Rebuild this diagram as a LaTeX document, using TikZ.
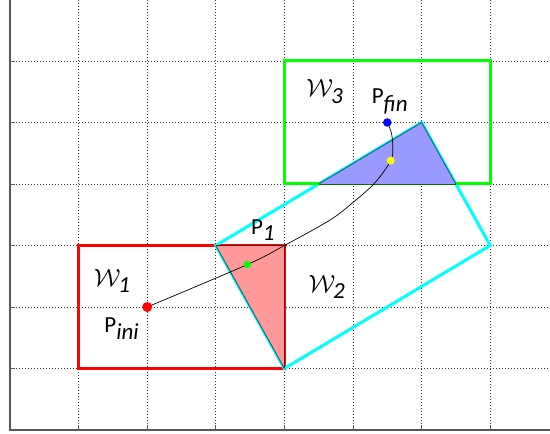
\documentclass[tikz,border=0pt]{standalone}
\usepackage{fontspec}
\setmainfont{Carlito}
\definecolor{mred}{RGB}{255,0,0}
\definecolor{mgreen}{RGB}{0,255,0}
\definecolor{mcyan}{RGB}{0,255,255}
\definecolor{mblue}{RGB}{0,0,255}
\definecolor{myellow}{RGB}{255,255,0}
\definecolor{pinkfill}{RGB}{255,153,153}
\definecolor{bluefill}{RGB}{153,153,255}
\definecolor{tealedge}{RGB}{0,110,110}
\definecolor{greenedge}{RGB}{0,110,0}
\definecolor{rededge}{RGB}{110,0,0}
\begin{document}
\begin{tikzpicture}[x=68.6pt,y=61.5pt,
  gridline/.style={black!80,line width=0.6pt,dash pattern=on 0.8pt off 2.2pt},
  axisline/.style={black!65,line width=1.4pt},
  region/.style={line width=3pt},
  inter/.style={line width=0.9pt},
  dot/.style={circle,inner sep=0pt,minimum size=#1},
  lbl/.style={font=\fontsize{23}{25}\selectfont,inner sep=0pt}
]
\useasboundingbox (-0.1458,-0.065) rectangle (7.872,6.992);
% grid
\foreach \i in {1,...,7} {
  \draw[gridline] (\i,0) -- (\i,7);
  \draw[gridline] (0,\i) -- (8,\i);
  \draw[black!65,line width=0.8pt] (\i,0) -- (\i,0.08);
  \draw[black!65,line width=0.8pt] (0,\i) -- (0.07,\i);
}
\draw[axisline] (0,7) -- (0,0) -- (8,0);
% regions
\draw[region,mred] (1,1) rectangle (4,3);
\draw[region,mcyan] (3,3) -- (4,1) -- (7,3) -- (6,5) -- cycle;
\draw[region,mgreen] (4,4) rectangle (7,6);
% intersections
\fill[pinkfill] (3,3) -- (4,3) -- (4,1) -- cycle;
\fill[bluefill] (4.5,4) -- (6,5) -- (6.5,4) -- cycle;
\draw[inter,rededge] (3,3) -- (4,3) -- (4,1);
\draw[inter,tealedge] (3,3) -- (4,1);
\draw[inter,tealedge] (4.5,4) -- (6,5) -- (6.5,4);
\draw[inter,greenedge] (4.5,4) -- (6.5,4);
% path
\coordinate (cini) at (2,2);
\coordinate (cone) at (3.46,2.69);
\coordinate (cyel) at (5.55,4.38);
\coordinate (cfin) at (5.5,5);
\draw[black,line width=0.7pt] plot[smooth,tension=0.55] coordinates {(cini) (cone) (4,3.0) (4.66,3.41) (5.0,3.7) (5.32,4.02) (cyel) (5.58,4.6) (5.56,4.83) (cfin)};
\node[dot=10pt,fill=mred] (pini) at (cini) {};
\node[dot=7.5pt,fill=mgreen] (pone) at (cone) {};
\node[dot=8pt,fill=myellow] (pyel) at (cyel) {};
\node[dot=8.5pt,fill=mblue] (pfin) at (cfin) {};
% labels
\node[lbl] (w1) at (1.49,2.42) {$\mathcal{W}_{\textit{1}}$};
\node[lbl] (lini) at (1.63,1.65) {P$_{\textit{ini}}$};
\node[lbl] (lone) at (3.69,3.25) {P$_{\textit{1}}$};
\node[lbl] (w2) at (4.62,2.33) {$\mathcal{W}_{\textit{2}}$};
\node[lbl] (w3) at (4.59,5.5) {$\mathcal{W}_{\textit{3}}$};
\node[lbl] (lfin) at (5.54,5.34) {P$_{\textit{fin}}$};
\end{tikzpicture}
\end{document}
